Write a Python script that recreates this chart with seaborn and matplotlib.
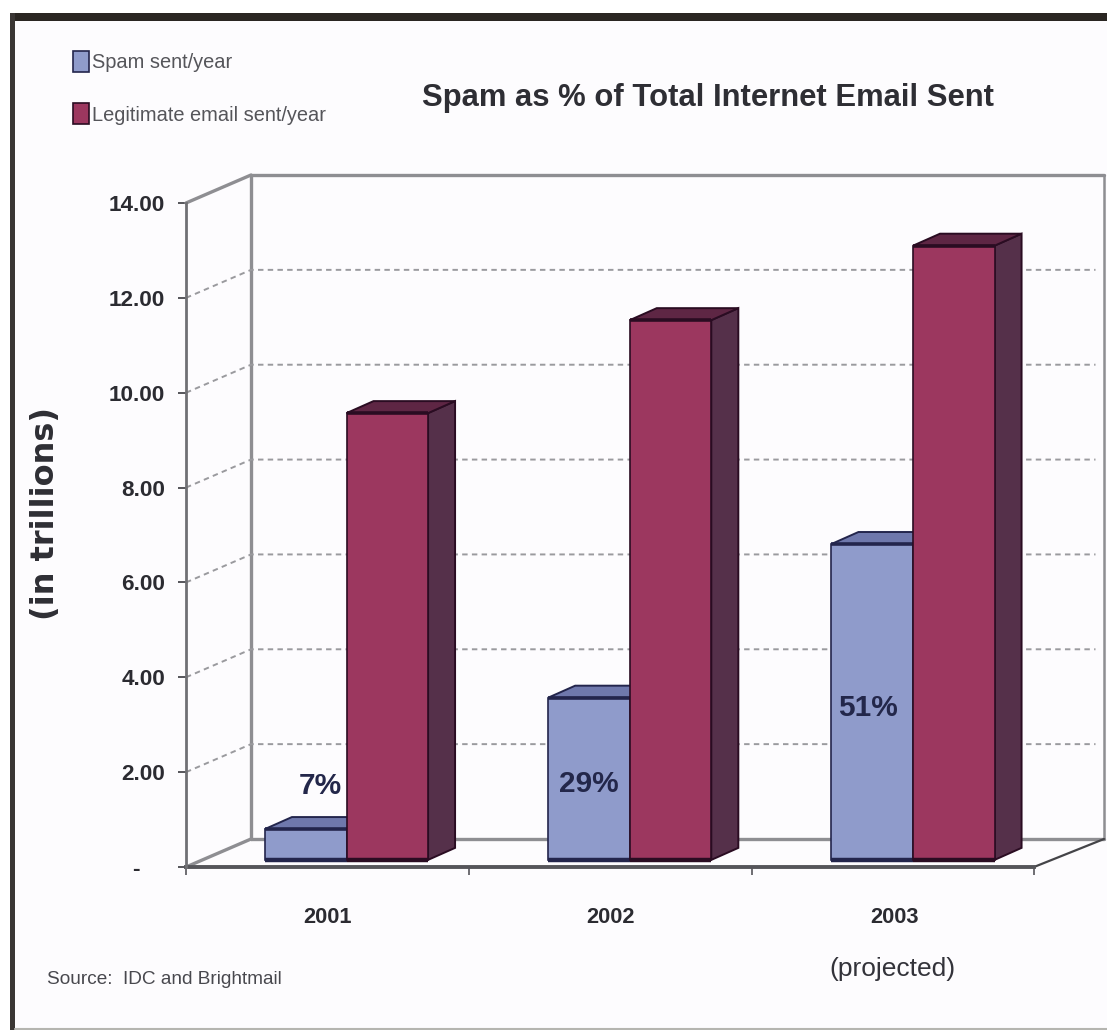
import matplotlib
matplotlib.use("Agg")
import matplotlib.pyplot as plt
from matplotlib.lines import Line2D
from matplotlib.patches import Polygon, Rectangle
import pandas as pd
import seaborn as sns

# ---- data ----
years = ["2001", "2002", "2003"]
spam = [0.65, 3.42, 6.66]
legit = [9.42, 11.38, 12.95]
percent_labels = ["7%", "29%", "51%"]
percent_y = [1.70, 1.74, 3.35]
percent_x = [-0.093, 0.855, 1.84]
y_ticks = [0, 2, 4, 6, 8, 10, 12, 14]
y_tick_labels = ["-    ", "2.00", "4.00", "6.00", "8.00", "10.00", "12.00", "14.00"]
series_names = ["Spam sent/year", "Legitimate email sent/year"]

# ---- style ----
W, H = 1107, 1030
SANS = ["Liberation Sans", "DejaVu Sans"]
C_SPAM, C_LEGIT = "#8F9BCB", "#9C375F"
C_SPAM_TOP, C_LEGIT_TOP = "#6F78AC", "#5E2644"
C_SPAM_SIDE, C_LEGIT_SIDE = "#4A5175", "#55304A"
E_SPAM, E_LEGIT = "#23254C", "#2A0C22"
C_WALL = "#8E8E92"
C_TEXT = "#2B2B31"

sns.set_theme(style="white")
plt.rcParams["font.family"] = SANS

fig = plt.figure(figsize=(W / 100, H / 100), dpi=100, facecolor="white")
fig.add_artist(Rectangle((15 / W, 0), (W - 15) / W, 1 - 21 / H, transform=fig.transFigure,
                         facecolor="#FDFCFE", edgecolor="none", zorder=-5))
fig.add_artist(Rectangle((10 / W, 1 - 21 / H), (W - 10) / W, 8 / H, transform=fig.transFigure,
                         facecolor="#2A2622", edgecolor="none"))
fig.add_artist(Rectangle((10 / W, 0), 5 / W, 1 - 13 / H, transform=fig.transFigure,
                         facecolor="#3A3634", edgecolor="none"))
fig.add_artist(Line2D([15 / W, 1], [1.5 / H, 1.5 / H], transform=fig.transFigure,
                      color="#B5B5B0", lw=1.5))

ax = fig.add_axes([186 / W, (H - 867) / H, 848 / W, 664 / H])
ax.patch.set_alpha(0)

df = pd.DataFrame({
    "year": years * 2,
    "value": spam + legit,
    "series": [series_names[0]] * 3 + [series_names[1]] * 3,
})

baseline = 0.15
sns.barplot(data=df, x="year", y="value", hue="series", hue_order=series_names,
            palette={series_names[0]: C_SPAM, series_names[1]: C_LEGIT},
            saturation=1, width=0.576, gap=0, dodge=True, legend=False,
            linewidth=1.2, ax=ax, errorbar=None)

px_x, px_y = 283.25, 664 / 14
x0, x1 = -160.5 / px_x, 687.5 / px_x
ax.set_xlim(x0, x1)
ax.set_ylim(0, 14)

# 3D depth expressed in data units
wall_dx, wall_dx_r, wall_dy = 65 / px_x, 70 / px_x, 28 / px_y
bar_dx, bar_dy = 27 / px_x, 12 / px_y

# back wall, floor and dashed gridlines
wx0, wx1 = x0 + wall_dx, x1 + wall_dx_r
wall = dict(color=C_WALL, lw=2.4, clip_on=False, zorder=1, solid_capstyle="round")
ax.plot([wx0, wx0], [wall_dy, 14 + wall_dy], **wall)
ax.plot([wx1, wx1], [wall_dy, 14 + wall_dy], **{**wall, "lw": 1.8})
ax.plot([wx0, wx1], [14 + wall_dy] * 2, **wall)
ax.plot([wx0, wx1], [wall_dy] * 2, **wall)
ax.plot([x0, wx0], [14, 14 + wall_dy], **wall)
ax.plot([x0, wx0], [0, wall_dy], **wall)
ax.plot([x1, wx1], [0, wall_dy], color="#444448", lw=1.6, clip_on=False, zorder=1)
for v in y_ticks[1:-1]:
    ax.plot([x0, wx0, wx1 - 0.03], [v, v + wall_dy, v + wall_dy],
            color="#9A9A9E", lw=1.4, ls=(0, (2.8, 2.2)), clip_on=False, zorder=1)

# 3D faces built from the bars seaborn drew
bars = [p for p in ax.patches if p.get_height() > 0]
for i, bar in enumerate(bars):
    is_spam = i < len(years)
    z = 3 if is_spam else 5
    edge = E_SPAM if is_spam else E_LEGIT
    bar.set_y(baseline)
    bar.set_edgecolor(edge)
    bar.set_zorder(z + 1)
    l, r = bar.get_x(), bar.get_x() + bar.get_width()
    b, t = bar.get_y(), bar.get_y() + bar.get_height()
    top = [(l, t), (r, t), (r + bar_dx, t + bar_dy), (l + bar_dx, t + bar_dy)]
    side = [(r, b), (r + bar_dx, b + bar_dy), (r + bar_dx, t + bar_dy), (r, t)]
    ax.add_patch(Polygon(side, closed=True, facecolor=C_SPAM_SIDE if is_spam else C_LEGIT_SIDE,
                         edgecolor=edge, lw=1.4, zorder=z, clip_on=False))
    ax.add_patch(Polygon(top, closed=True, facecolor=C_SPAM_TOP if is_spam else C_LEGIT_TOP,
                         edgecolor=edge, lw=1.4, zorder=z, clip_on=False))
    # heavy front edges along the top and the foot of each bar
    ax.plot([l, r], [t, t], color=edge, lw=2.6, zorder=z + 1, solid_capstyle="butt", clip_on=False)
    ax.plot([l, r], [b, b], color=edge, lw=3.2, zorder=z + 1, solid_capstyle="butt", clip_on=False)

# percentage labels
for xx, yy, lab in zip(percent_x, percent_y, percent_labels):
    ax.text(xx, yy, lab, ha="center", va="center", fontsize=21.5, color="#23274A",
            zorder=8, fontweight="bold")

# axes
for s in ("top", "right"):
    ax.spines[s].set_visible(False)
ax.spines["left"].set_color("#707074")
ax.spines["left"].set_linewidth(2.0)
ax.spines["bottom"].set_color("#55555A")
ax.spines["bottom"].set_linewidth(2.8)
ax.spines["bottom"].set_zorder(2)

centers = [i - 0.0667 for i in range(len(years))]
edges = [x0] + [c + 0.5 for c in centers[:-1]] + [x1]
ax.set_xticks(centers, labels=years)
ax.set_xticks(edges, minor=True)
ax.tick_params(axis="x", which="major", bottom=False, length=0, pad=29, labelsize=15.7, labelcolor=C_TEXT)
ax.tick_params(axis="x", which="minor", bottom=True, length=6, width=1.2, color="#55555A", direction="out")
ax.set_yticks(y_ticks, labels=y_tick_labels)
ax.tick_params(axis="y", left=True, length=6, width=1.4, color="#55555A", pad=9, labelsize=16.2, labelcolor=C_TEXT)
for lab in ax.get_xticklabels() + ax.get_yticklabels():
    lab.set_fontweight("bold")
ax.set_xlabel("")
ax.set_ylabel("")

# legend
ax.legend(handles=[bars[0], bars[len(years)]], labels=series_names, loc="upper left",
          bbox_to_anchor=(73 / W, 1 - 51 / H), bbox_transform=fig.transFigure,
          frameon=False, title=None, borderpad=0, borderaxespad=0,
          handlelength=0.8, handleheight=1.25, handletextpad=0.15,
          labelspacing=1.55, labelcolor="#55555A",
          prop={"family": SANS, "size": 14.4})

# texts placed in figure coordinates
fig.text(708 / W, 1 - 98 / H, "Spam as % of Total Internet Email Sent", ha="center", va="center",
         fontsize=22.3, fontweight="bold", color="#2E2E34")
fig.text(46 / W, 1 - 514 / H, "(in trillions)", rotation=90, ha="center", va="center",
         family="DejaVu Sans", fontweight="bold", fontsize=23, color="#2E2E34")
fig.text(892 / W, 1 - 969 / H, "(projected)", ha="center", va="center", fontsize=19, color="#33333A")
fig.text(47 / W, 1 - 979 / H, "Source:  IDC and Brightmail", ha="left", va="center",
         fontsize=13.7, color="#48484E")

fig.savefig("out.png", dpi=100, facecolor=fig.get_facecolor())
